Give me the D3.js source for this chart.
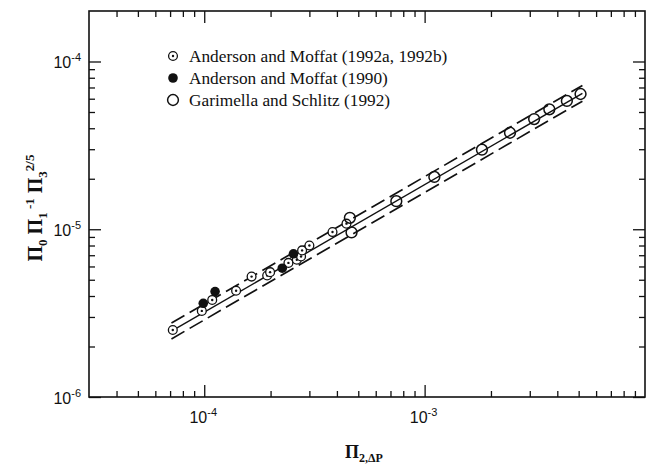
<!DOCTYPE html>
<html>
<head>
<meta charset="utf-8">
<script src="https://cdn.jsdelivr.net/npm/d3@7"></script>
<style>
	body { margin: 0; background: #fff; }
	svg { display: block; }
</style>
</head>
<body>
<div id="chart"></div>
<script>
// Anderson and Moffat (1992a, 1992b) - dotted circles
var amDotX = [7.2e-5, 9.75e-5, 1.087e-4, 1.395e-4, 1.64e-4, 1.93e-4, 1.99e-4, 2.41e-4, 2.63e-4, 2.75e-4, 2.78e-4, 3.0e-4, 3.82e-4, 4.42e-4];
var amDotY = [2.51e-6, 3.26e-6, 3.79e-6, 4.3e-6, 5.22e-6, 5.3e-6, 5.55e-6, 6.3e-6, 6.58e-6, 6.88e-6, 7.48e-6, 8.0e-6, 9.62e-6, 1.08e-5];

// Anderson and Moffat (1990) - filled circles
var am90X = [9.9e-5, 1.12e-4, 2.26e-4, 2.54e-4];
var am90Y = [3.62e-6, 4.25e-6, 5.86e-6, 7.14e-6];

// Garimella and Schlitz (1992) - open circles
var gsX = [4.58e-4, 4.66e-4, 7.44e-4, 1.107e-3, 1.82e-3, 2.44e-3, 3.14e-3, 3.68e-3, 4.42e-3, 5.1e-3];
var gsY = [1.17e-5, 9.58e-6, 1.47e-5, 2.05e-5, 2.98e-5, 3.76e-5, 4.54e-5, 5.19e-5, 5.82e-5, 6.4e-5];

// correlation line and the two dashed bounds (end points)
var fitX = [7.1e-5, 5.2e-3];
var fitY = [2.47e-6, 6.46e-5];
var upperY = [2.76e-6, 7.2e-5];
var lowerY = [2.22e-6, 5.8e-5];

// tick values
var xMajor = [1e-4, 1e-3];
var xMajorLabels = ["-4", "-3"];
var xMinor = [4e-5, 5e-5, 6e-5, 7e-5, 8e-5, 9e-5, 2e-4, 3e-4, 4e-4, 5e-4, 6e-4, 7e-4, 8e-4, 9e-4,
	2e-3, 3e-3, 4e-3, 5e-3, 6e-3, 7e-3, 8e-3, 9e-3];
var yMajor = [1e-6, 1e-5, 1e-4];
var yMajorLabels = ["-6", "-5", "-4"];
var yMinor = [2e-6, 3e-6, 4e-6, 5e-6, 6e-6, 7e-6, 8e-6, 9e-6, 2e-5, 3e-5, 4e-5, 5e-5, 6e-5, 7e-5, 8e-5, 9e-5];

var legendNames = ["Anderson and Moffat (1992a, 1992b)", "Anderson and Moffat (1990)", "Garimella and Schlitz (1992)"];

var sansFont = "'Liberation Sans', Arial, Helvetica, sans-serif";
var serifFont = "'Liberation Serif', 'Times New Roman', Times, serif";

// Set up SVG width and height
var svgWidth = 648;
var svgHeight = 465;

var margin = { top: 11, right: 3, bottom: 68, left: 89 };
var width = svgWidth - margin.left - margin.right;
var height = svgHeight - margin.top - margin.bottom;

var svg = d3.select("#chart")
	.append("svg")
	.attr("width", svgWidth)
	.attr("height", svgHeight);

var chartGroup = svg.append("g")
	.attr("transform", `translate(${margin.left}, ${margin.top})`);

var xScale = d3.scaleLog().domain([3e-5, 1e-2]).range([0, width]);
var yScale = d3.scaleLog().domain([1e-6, 2e-4]).range([height, 0]);

// ticks pointing inward on all four sides
function tickAxis(axisFn, scale, values, size, transform) {
	var g = chartGroup.append("g")
		.attr("transform", transform)
		.call(axisFn(scale).tickValues(values).tickSize(size).tickFormat(""));
	g.select(".domain").remove();
	g.selectAll("line").attr("stroke", "#111").attr("stroke-width", 1.3);
	return g;
}

tickAxis(d3.axisBottom, xScale, xMajor, -12, `translate(0, ${height})`);
tickAxis(d3.axisBottom, xScale, xMinor, -6, `translate(0, ${height})`);
tickAxis(d3.axisTop, xScale, xMajor, -12, "translate(0, 0)");
tickAxis(d3.axisTop, xScale, xMinor, -6, "translate(0, 0)");
tickAxis(d3.axisLeft, yScale, yMajor, -12, "translate(0, 0)");
tickAxis(d3.axisLeft, yScale, yMinor, -6, "translate(0, 0)");
tickAxis(d3.axisRight, yScale, yMajor, -12, `translate(${width}, 0)`);
tickAxis(d3.axisRight, yScale, yMinor, -6, `translate(${width}, 0)`);

// frame
chartGroup.append("rect")
	.attr("width", width)
	.attr("height", height)
	.attr("fill", "none")
	.attr("stroke", "#111")
	.attr("stroke-width", 1.6);

// x tick labels
xMajor.forEach(function(v, i) {
	var t = chartGroup.append("text")
		.attr("font-family", sansFont)
		.attr("fill", "#111")
		.attr("x", xScale(v) - 1)
		.attr("y", height + 26)
		.attr("text-anchor", "middle")
		.attr("font-size", 16);
	t.append("tspan").text("10");
	t.append("tspan").attr("dy", -7).attr("font-size", 11).text(xMajorLabels[i]);
});

// y tick labels
yMajor.forEach(function(v, i) {
	var t = chartGroup.append("text")
		.attr("font-family", sansFont)
		.attr("fill", "#111")
		.attr("x", -8)
		.attr("y", yScale(v) + 7)
		.attr("text-anchor", "end")
		.attr("font-size", 16);
	t.append("tspan").text("10");
	t.append("tspan").attr("dy", -7).attr("font-size", 11).text(yMajorLabels[i]);
});

// lines
var line = d3.line()
	.x(d => xScale(d[0]))
	.y(d => yScale(d[1]));

chartGroup.append("path")
	.datum(d3.zip(fitX, fitY))
	.attr("d", line)
	.attr("fill", "none")
	.attr("stroke", "#111")
	.attr("stroke-width", 1.4);

[upperY, lowerY].forEach(function(ys) {
	chartGroup.append("path")
		.datum(d3.zip(fitX, ys))
		.attr("d", line)
		.attr("fill", "none")
		.attr("stroke", "#111")
		.attr("stroke-width", 1.7)
		.attr("stroke-dasharray", "15,6");
});

// marker drawing
function dotCircle(g, cx, cy) {
	g.append("circle").attr("cx", cx).attr("cy", cy).attr("r", 4.4)
		.attr("fill", "#fff").attr("stroke", "#111").attr("stroke-width", 1.3);
	g.append("circle").attr("cx", cx).attr("cy", cy).attr("r", 1.2).attr("fill", "#111");
}
function filledCircle(g, cx, cy) {
	g.append("circle").attr("cx", cx).attr("cy", cy).attr("r", 4.8).attr("fill", "#111");
}
function openCircle(g, cx, cy) {
	g.append("circle").attr("cx", cx).attr("cy", cy).attr("r", 5.4)
		.attr("fill", "none").attr("stroke", "#111").attr("stroke-width", 1.5);
}

var pointsGroup = chartGroup.append("g");
d3.zip(amDotX, amDotY).forEach(d => dotCircle(pointsGroup, xScale(d[0]), yScale(d[1])));
d3.zip(am90X, am90Y).forEach(d => filledCircle(pointsGroup, xScale(d[0]), yScale(d[1])));
d3.zip(gsX, gsY).forEach(d => openCircle(pointsGroup, xScale(d[0]), yScale(d[1])));

// legend
var legend = svg.append("g");
var markers = [dotCircle, filledCircle, openCircle];
legendNames.forEach(function(name, i) {
	var cy = 56 + i * 22;
	markers[i](legend, 173, cy);
	legend.append("text")
		.attr("font-family", serifFont)
		.attr("fill", "#111")
		.attr("x", 189)
		.attr("y", cy + 6)
		.attr("font-size", 17.3)
		.text(name);
});

// x axis title
var xTitle = svg.append("text")
	.attr("font-family", serifFont)
	.attr("fill", "#111")
	.attr("x", 345)
	.attr("y", 458)
	.attr("font-weight", "bold")
	.attr("font-size", 18);
xTitle.append("tspan").text("Π");
xTitle.append("tspan").attr("dy", 4).attr("font-size", 12).text("2,ΔP");

// y axis title (rotated)
var yTitle = svg.append("text")
	.attr("font-family", serifFont)
	.attr("fill", "#111")
	.attr("transform", "translate(42, 208) rotate(-90)")
	.attr("text-anchor", "middle")
	.attr("font-weight", "bold")
	.attr("font-size", 20);
yTitle.append("tspan").text("Π");
yTitle.append("tspan").attr("dy", 5).attr("font-size", 13).text("0");
yTitle.append("tspan").attr("dy", -5).text(" Π");
yTitle.append("tspan").attr("dy", 5).attr("font-size", 13).text("1");
yTitle.append("tspan").attr("dy", -13).attr("font-size", 13).text(" -1");
yTitle.append("tspan").attr("dy", 8).text(" Π");
yTitle.append("tspan").attr("dy", 5).attr("font-size", 13).text("3");
yTitle.append("tspan").attr("dy", -13).attr("font-size", 13).text("2/5");
</script>
</body>
</html>
